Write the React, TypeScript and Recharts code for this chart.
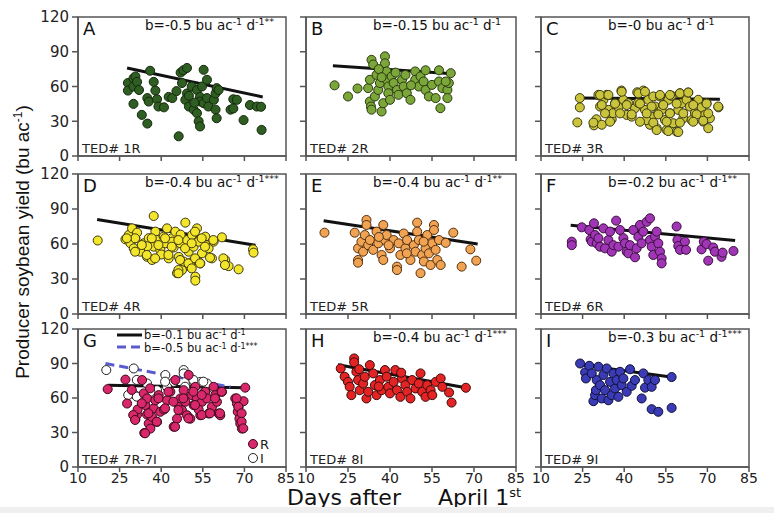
import React from 'react';
import { ScatterChart, Scatter, XAxis, YAxis, ReferenceLine, ReferenceArea } from 'recharts';

type Pt = [number, number];

const xTicks = [10, 25, 40, 55, 70, 85];
const yTicks = [0, 30, 60, 90, 120];

// [days after April 1st, yield bu/ac]
const pointsA: Pt[] = [
  [28, 63], [28, 56.5], [30, 67], [30, 60], [30.7, 68.7], [31.3, 64], [32, 57], [30, 45], [33, 35.5], [35, 28],
  [36, 73.6], [35, 50], [35.5, 47], [37.3, 64], [37.9, 56.5], [38.5, 49], [39, 42.7], [41, 42], [42.7, 51], [44, 50],
  [46.3, 17], [47, 72], [48, 74], [49.3, 76], [47.5, 63], [49.3, 54], [48.7, 48.5], [50, 42.7], [51.7, 40], [52.9, 37],
  [53.5, 30], [54, 25.5], [51, 60], [52.9, 57], [54, 51], [54.7, 60], [55.3, 74.4], [56.5, 65.8], [54, 47], [55.3, 45.6],
  [56.5, 50], [57, 42.7], [59, 48.5], [59.6, 54], [60, 58.6], [59.6, 40], [60, 32.6], [60.7, 57], [66, 49], [67.3, 48.5],
  [65, 40], [66, 41], [69.7, 31], [72, 44], [74.5, 42.7], [76, 42.5], [76.2, 22.5], [52, 46], [50, 52], [45.5, 56],
];
const pointsB: Pt[] = [
  [20.2, 61], [25, 51.4], [28.4, 58.3], [32.2, 58.6], [32.8, 65.8], [33.4, 83], [34, 79], [35.2, 70], [32.8, 47], [33.2, 42.7],
  [33.4, 40], [34.6, 51.4], [35.8, 57], [36.4, 63], [37, 38.4], [37.6, 45.6], [38.2, 86], [38.2, 80], [38.8, 73], [38.8, 65.8],
  [39.4, 60], [39.4, 54.2], [40, 48.5], [40.6, 68.7], [41.3, 63], [42.5, 57], [43, 52.8], [44.3, 65.8], [44.9, 60], [45.5, 70],
  [46, 54.2], [47.3, 48.5], [49, 73], [49, 65.8], [50.3, 60], [50.9, 68.7], [52, 64.3], [52.7, 74], [52.7, 57], [53.9, 51.4],
  [55, 61.4], [56.3, 50], [57.5, 74], [57.5, 64.3], [58, 41.3], [58.7, 58.6], [60.5, 57], [60.5, 50], [61, 63], [61.7, 71.5],
  [59.9, 64.3], [36, 75], [37, 68], [42, 72], [47.5, 61],
];
const pointsC: Pt[] = [
  [23.1, 29], [24, 42], [24, 50], [29.1, 26.5], [30, 31.7], [30.7, 52.8], [31.3, 42.7], [31.9, 27], [32.5, 48.5], [33.7, 52.8],
  [34.3, 39.8], [35.5, 31.7], [36, 37], [36.7, 45.6], [39, 56.5], [39.7, 48.5], [40.9, 35.5], [41.5, 45.6], [42.7, 34], [43.9, 41.3],
  [44.7, 55], [46.9, 56.5], [47.5, 39.8], [48.7, 48.5], [49.3, 27], [49.9, 34], [50.5, 51.4], [51.1, 42.7], [51.7, 24], [52.3, 37],
  [52.9, 51.4], [54, 44], [54.7, 31], [55.3, 22.5], [55.9, 48.5], [56.5, 37], [57.1, 52], [57.7, 28.3], [58.9, 21], [59.5, 39.8],
  [60.1, 54.2], [60.7, 45.6], [61.3, 32.6], [62.5, 48.5], [63.1, 54.8], [63.7, 42.7], [64.3, 31], [65.5, 37], [66.7, 48.5], [67.9, 42],
  [68.5, 29.7], [69.1, 35.5], [69.7, 45.6], [70.3, 24], [70.9, 32.6], [74, 42], [45, 46], [53.5, 40], [38, 42], [48, 31],
  [31.3, 52.7], [34.3, 52.7], [39.1, 55.5], [45.1, 54.1], [47.5, 55.5], [52.9, 52.7], [56.5, 52.7], [60.1, 54.1], [63.1, 54.8], [31.9, 44],
  [36.7, 45.2], [40.9, 44], [45.7, 45.2], [49.9, 42.7], [54.1, 44], [58.9, 45.2], [64.9, 44], [69.7, 45.2], [73.9, 42.7], [33.1, 36.8],
  [38.5, 36.8], [42.7, 35.9], [48.1, 36.8], [52.3, 35.9], [56.5, 36.8], [61.3, 36.8], [66.1, 35.9], [70.3, 36.8], [28.9, 28.8], [34.9, 29.6],
  [45.7, 29.6], [50.5, 28.8], [55.3, 29.6], [60.1, 28.8], [64.9, 29.6], [68.5, 30.5], [51.7, 22.4], [55.9, 21.5], [59.5, 20.7],
];
const pointsD: Pt[] = [
  [17.1, 63], [27.1, 64], [28.3, 67.7], [28.9, 60.6], [29.5, 73.4], [30.1, 56.3], [30.7, 65], [31.3, 69.7], [32.5, 53.4], [33.7, 60.6],
  [34.9, 49], [35.5, 65], [36.7, 46.3], [37.3, 84], [37.3, 57.7], [37.9, 70.6], [38.5, 63.4], [39.7, 55], [40.9, 66.3], [41.5, 60.6],
  [42.1, 73.4], [42.7, 47.7], [43.9, 65], [44.5, 57], [45.1, 70.6], [45.7, 35], [46.3, 49], [46.9, 60.6], [47.5, 37.7], [48.1, 45],
  [48.7, 78.3], [49.3, 63.4], [49.9, 53.4], [50.5, 40.6], [51.1, 67.7], [51.7, 57.7], [52.3, 32], [52.3, 28.6], [52.9, 46.3], [52.9, 73.4],
  [53.5, 62], [54.1, 43.4], [54.7, 52], [55.9, 66.3], [56.5, 59], [57.1, 56.3], [58.3, 47.7], [58.9, 62], [61.9, 65.7], [63.1, 46.3],
  [63.1, 42], [64.3, 41], [67.9, 38.3], [73.1, 55.4], [73.3, 52.6], [44, 62], [40, 51], [35, 58], [50.5, 44], [47, 68],
  [52.2, 70.6], [30.6, 64.9], [27.6, 64.9], [33, 59.1], [36.6, 64.9], [39, 59.1], [41.4, 64.9], [43.8, 57.7], [46.2, 63.4], [48.6, 56.3],
  [51, 60.6], [54.6, 64.9], [55.8, 57.7], [58.8, 63.4], [30.6, 53.4], [34.8, 50.6], [37.8, 47.7], [42.6, 50.6], [46.8, 46.3], [49.8, 43.4],
  [52.2, 47.7], [54, 43.4], [46.2, 37.7], [46.2, 34.9], [51, 39.1], [57.6, 48.3], [62.4, 47.7], [63, 42],
];
const pointsE: Pt[] = [
  [16.6, 69.7], [27.4, 69.7], [28.6, 56.3], [28.6, 46.3], [28.6, 44], [29.8, 62], [30.4, 53.4], [31, 67.7], [31.6, 80.6], [31.6, 76.3],
  [32.2, 59], [32.8, 63.4], [34, 55], [35.2, 70.6], [35.8, 60.6], [37, 50.6], [37.6, 76.3], [37.6, 46.3], [38.2, 63.4], [38.8, 67.7],
  [40, 56.3], [41.3, 63.4], [42.5, 40.6], [42.5, 37.7], [43.1, 60.6], [43.7, 50.6], [44.9, 69], [45.5, 56.3], [46.1, 63.4], [47.3, 46.3],
  [48.5, 59], [49.1, 53.4], [49.7, 78.3], [49.7, 70.6], [50.3, 63.4], [50.9, 35], [51.5, 50.6], [52.1, 45], [52.7, 56.3], [53.3, 67.7],
  [53.9, 52], [54.5, 42], [55.1, 60.6], [55.7, 76.3], [55.7, 72], [56.3, 55], [56.9, 46.3], [57.5, 63.4], [58.1, 42], [59.9, 61],
  [62.6, 69.7], [65.6, 40.6], [68.7, 55.4], [70.8, 45.7], [36, 66], [46, 52], [52, 62], [39.5, 59],
];
const pointsF: Pt[] = [
  [21.1, 62], [21.1, 59], [24.7, 74.3], [27.4, 72], [27.9, 64], [28.3, 62], [29.1, 77.7], [29.5, 67.7], [30.1, 60.6], [30.7, 65],
  [31.3, 57.7], [32.5, 73.4], [33.1, 56.3], [34.3, 63.4], [34.9, 70.6], [35.5, 53.4], [36.1, 59], [37.1, 80], [37.9, 57.7], [38.5, 72],
  [39.7, 65], [40.3, 60.6], [40.9, 53.4], [41.5, 52], [42.1, 59], [43.3, 72], [43.9, 48.6], [44.5, 56.3], [45.1, 66.3], [45.7, 76.3],
  [46.3, 60.6], [46.9, 70.6], [48.1, 79], [49.3, 82], [49.3, 63.4], [49.9, 57.7], [50.5, 50.6], [51.1, 66.3], [51.7, 70.6], [52.3, 60.6],
  [52.9, 53.4], [53.5, 47.7], [53.5, 43.4], [58.9, 75], [59.2, 63.4], [59.5, 58.3], [60.1, 55], [61.9, 62], [62.3, 55], [67.9, 55.4],
  [68.7, 62], [69.7, 60], [70.3, 45.7], [72.1, 57], [72.7, 53.4], [75.1, 49], [75.5, 52.6], [79.4, 54],
];
const pointsG_R: Pt[] = [
  [20.7, 67.7], [27.1, 76], [27.7, 55.2], [30.7, 41.6], [31.3, 45.6], [33.1, 75.6], [33.7, 64], [34.3, 53.8], [34.9, 59.6], [33.9, 29.6],
  [34.9, 45.6], [35.5, 37.8], [36.1, 33.4], [36.7, 43.6], [37.3, 51], [37.9, 58], [38.5, 39.2], [39.1, 62.5], [39.7, 48], [42.1, 58],
  [43.3, 65.4], [44.5, 35], [45.1, 75.6], [45.7, 42], [46.3, 53.8], [46.9, 59.6], [47.5, 49.4], [48.1, 66.8], [48.7, 56.7], [49.3, 45],
  [49.9, 80], [50.5, 42], [51.1, 62.5], [51.7, 53.8], [52.3, 69.7], [52.9, 59.6], [54.1, 45], [54.7, 56.7], [55.9, 65.4], [56.5, 59.6],
  [57.1, 46.5], [58.3, 52.3], [58.9, 69.7], [59.5, 62.5], [60.1, 56.7], [60.7, 46.5], [61.3, 45], [61.9, 65.4], [66.7, 59.6], [67.3, 55.2],
  [67.6, 48], [67.9, 52.3], [68.2, 42], [68.5, 37.8], [69.1, 33.4], [69.7, 57.2], [70.3, 69], [41, 50], [53.5, 50], [31.5, 50],
  [33, 55.4], [29.9, 45.2], [30.6, 40.9], [34.2, 29.3], [35.4, 46.7], [38.4, 39.4], [39, 59.7], [42.6, 65.5], [45, 35], [46.2, 49.6],
  [48, 59.7], [49.8, 42.3], [51.6, 65.5], [52.2, 53.9], [54.6, 45.2], [57.6, 46.7], [59.4, 59.7], [61.2, 46.7], [61.8, 65.5], [67.2, 59.7],
  [67.8, 52.4], [69, 46.7], [69, 39.4], [69.6, 33.6], [29.4, 67], [36, 68.4], [41.4, 51], [44.4, 56.8], [54.6, 62.6],
];
const pointsG_I: Pt[] = [
  [20.2, 84.3], [30.1, 85.7], [30.1, 63.3], [31.9, 61], [34.9, 72.6], [38.5, 66.8], [41.5, 80], [44.5, 74], [48.1, 84.3], [48.1, 81.4],
  [49.3, 66.8], [51.7, 74], [54.1, 74], [55.3, 64], [56.5, 72.6], [58.9, 68.3], [36.1, 65.4], [42.1, 69.7], [41.4, 74.2], [31.2, 75.7],
  [55.2, 74.2], [51.6, 75.7], [28.1, 62.6], [31.2, 61.2], [55.8, 65.5], [48.6, 69.8],
];
const pointsH: Pt[] = [
  [22.4, 85.7], [23.8, 78.5], [25, 74], [25.6, 69.7], [26.2, 62.5], [27.2, 94.4], [27.2, 91], [28, 82.8], [28.6, 75.6], [29.2, 66.8],
  [30.4, 72.6], [31, 78.5], [31.6, 59.6], [32.2, 65.4], [32.8, 88.6], [34, 81.4], [34.6, 71.2], [35.2, 62.5], [36.4, 75.6], [37, 66.8],
  [38.2, 84.3], [38.8, 78.5], [39.4, 69.7], [40, 64], [41.3, 74], [41.9, 84.3], [42.5, 66.8], [43.7, 61], [44.3, 77], [45.5, 71.2],
  [46.1, 65.4], [47.3, 59.6], [47.9, 75.6], [49.1, 68.3], [50.3, 72.6], [50.9, 81.4], [51.5, 65.4], [52.7, 61], [53.3, 71.2], [54.5, 66.8],
  [55.1, 62.5], [56.3, 74], [58.1, 77], [58.7, 69.7], [61.1, 64.8], [62, 56], [67.1, 68.9], [29, 85], [36, 70], [44, 82],
];
const pointsI: Pt[] = [
  [24.1, 90], [25.9, 82.2], [26.2, 77], [27.4, 88], [28.3, 81.4], [28.9, 57.2], [29.5, 62.5], [29.8, 66.8], [30.1, 75.6], [30.7, 87.2],
  [31.3, 71.2], [31.9, 59.6], [32.5, 80], [33.1, 66.8], [33.7, 85.7], [34.3, 58], [34.9, 74], [35.5, 62.5], [36.1, 81.4], [36.7, 68.3],
  [37.3, 75.6], [37.9, 61], [38.5, 82.8], [39.1, 71.2], [39.7, 77], [40.9, 65.4], [42.1, 85], [42.7, 70.6], [43.9, 75.6], [46.3, 59.6],
  [46.9, 81.4], [47.5, 69], [48.7, 75.6], [49.9, 69.7], [49.9, 50.3], [51.1, 75.6], [52.3, 48], [57.1, 78.2], [57.1, 51.4],
];

// regression line end points
const fitA: Pt[] = [[27.7, 76], [76.6, 51]];
const fitB: Pt[] = [[19.6, 78], [62.3, 71]];
const fitC: Pt[] = [[23.8, 50], [74.5, 49]];
const fitD: Pt[] = [[16.9, 81], [74, 59]];
const fitE: Pt[] = [[16.3, 80], [71.3, 60]];
const fitF: Pt[] = [[20.7, 76], [80, 63]];
const fitG_R: Pt[] = [[20.7, 71], [70.3, 69]];
const fitG_I: Pt[] = [[19.9, 90], [65, 69.5]];
const fitH: Pt[] = [[21.4, 89], [67.1, 69]];
const fitI: Pt[] = [[24.1, 89], [57.5, 78]];

const letters = ['A', 'B', 'C', 'D', 'E', 'F', 'G', 'H', 'I'];
const tedLabels = ['TED# 1R', 'TED# 2R', 'TED# 3R', 'TED# 4R', 'TED# 5R', 'TED# 6R', 'TED# 7R-7I', 'TED# 8I', 'TED# 9I'];
const slopes = ['-0.5', '-0.15', '-0', '-0.4', '-0.4', '-0.2', '', '-0.4', '-0.3'];
const stars = ['**', '', '', '***', '**', '**', '', '***', '***'];

const FONT = '"DejaVu Sans", "Liberation Sans", Arial, sans-serif';
const FRAME = '#555';

const COLS = [{ left: 78, width: 208 }, { left: 306, width: 210 }, { left: 541, width: 208 }];
const ROWS = [{ top: 17, height: 139 }, { top: 174, height: 140 }, { top: 329, height: 138 }];

interface Series { pts: Pt[]; fill: string; stroke: string }
interface Fit { pts: Pt[]; color: string; dash?: string }
interface PanelDef { series: Series[]; fits: Fit[] }

const PANELS: PanelDef[] = [
  { series: [{ pts: pointsA, fill: '#2f5e22', stroke: '#15280d' }], fits: [{ pts: fitA, color: '#111' }] },
  { series: [{ pts: pointsB, fill: '#7ba63a', stroke: '#2a3a10' }], fits: [{ pts: fitB, color: '#111' }] },
  { series: [{ pts: pointsC, fill: '#c9c43c', stroke: '#3a3810' }], fits: [{ pts: fitC, color: '#111' }] },
  { series: [{ pts: pointsD, fill: '#f2e52a', stroke: '#3d3710' }], fits: [{ pts: fitD, color: '#111' }] },
  { series: [{ pts: pointsE, fill: '#f0a352', stroke: '#553010' }], fits: [{ pts: fitE, color: '#111' }] },
  { series: [{ pts: pointsF, fill: '#a035b5', stroke: '#3a103f' }], fits: [{ pts: fitF, color: '#111' }] },
  {
    series: [
      { pts: pointsG_I, fill: '#ffffff', stroke: '#222' },
      { pts: pointsG_R, fill: '#d8276b', stroke: '#3a0a1a' },
    ],
    fits: [{ pts: fitG_R, color: '#111' }, { pts: fitG_I, color: '#5b5bd0', dash: '9 5' }],
  },
  { series: [{ pts: pointsH, fill: '#e42424', stroke: '#3a0a0a' }], fits: [{ pts: fitH, color: '#111' }] },
  { series: [{ pts: pointsI, fill: '#3b3bb5', stroke: '#10103a' }], fits: [{ pts: fitI, color: '#111' }] },
];

const toXY = (pts: Pt[]) => pts.map(([x, y]) => ({ x, y }));

const Panel = ({ p, col, row, showY, showX }: { p: PanelDef; col: { left: number; width: number }; row: { top: number; height: number }; showY: boolean; showX: boolean }) => {
  const mL = 50, mT = 12, mR = 14, mB = 26;
  const w = col.width, h = row.height;
  const tickStyle = { fill: '#222', fontSize: 14, fontFamily: FONT };
  return (
    <div style={{ position: 'absolute', left: col.left - mL, top: row.top - mT }}>
      <ScatterChart width={w + mL + mR} height={h + mT + mB} margin={{ top: mT, right: mR, bottom: 0, left: 0 }}>
        <XAxis
          type="number"
          dataKey="x"
          domain={[10, 85]}
          ticks={xTicks}
          height={mB}
          tickSize={5}
          tickMargin={1}
          axisLine={{ stroke: FRAME, strokeWidth: 1.5 }}
          tickLine={{ stroke: FRAME, strokeWidth: 1.5 }}
          tick={tickStyle}
          tickFormatter={(v) => (showX ? String(v) : '')}
          interval={0}
        />
        <YAxis
          type="number"
          dataKey="y"
          domain={[0, 120]}
          ticks={yTicks}
          width={mL}
          tickSize={6}
          tickMargin={3}
          axisLine={{ stroke: FRAME, strokeWidth: 1.5 }}
          tickLine={{ stroke: FRAME, strokeWidth: 1.5 }}
          tick={{ ...tickStyle, fontSize: 15 }}
          tickFormatter={(v) => (showY ? String(v) : '')}
          interval={0}
        />
        <ReferenceArea x1={10} x2={85} y1={0} y2={120} fill="none" stroke={FRAME} strokeWidth={1.5} />
        {p.series.map((s, i) => (
          <Scatter key={i} data={toXY(s.pts)} fill={s.fill} stroke={s.stroke} strokeWidth={1} isAnimationActive={false} />
        ))}
        {p.fits.map((f, i) => (
          <ReferenceLine
            key={'f' + i}
            segment={[{ x: f.pts[0][0], y: f.pts[0][1] }, { x: f.pts[1][0], y: f.pts[1][1] }]}
            stroke={f.color}
            strokeWidth={3}
            strokeDasharray={f.dash}
          />
        ))}
      </ScatterChart>
    </div>
  );
};

const Slope = ({ x, y, b, st, size = 13.5, sup = 9.5, rise = 5 }: { x: number; y: number; b: string; st: string; size?: number; sup?: number; rise?: number }) => (
  <text x={x} y={y} fontSize={size} fill="#111">
    b={b} bu ac<tspan dy={-rise} fontSize={sup}>-1</tspan>
    <tspan dy={rise}> d</tspan>
    <tspan dy={-rise} fontSize={sup}>-1{st}</tspan>
  </text>
);

export default function App() {
  return (
    <div style={{ position: 'absolute', left: 0, top: 0, width: 774, height: 513, background: '#fff', overflow: 'hidden', fontFamily: FONT }}>
      {PANELS.map((p, i) => (
        <Panel key={i} p={p} col={COLS[i % 3]} row={ROWS[Math.floor(i / 3)]} showY={i % 3 === 0} showX={i >= 6} />
      ))}
      <svg width={774} height={513} style={{ position: 'absolute', left: 0, top: 0, pointerEvents: 'none', fontFamily: FONT }}>
        {letters.map((l, i) => {
          const c = COLS[i % 3], r = ROWS[Math.floor(i / 3)];
          return (
            <g key={l}>
              <text x={c.left + 5} y={r.top + 18} fontSize={18} fill="#111">{l}</text>
              <text x={c.left + 4} y={r.top + r.height - 3} fontSize={13} fill="#222">{tedLabels[i]}</text>
              {slopes[i] !== '' && <Slope x={c.left + 67} y={r.top + 13} b={slopes[i]} st={stars[i]} />}
            </g>
          );
        })}
        {/* panel G legend */}
        <line x1={117} x2={142} y1={335} y2={335} stroke="#111" strokeWidth={3} />
        <Slope x={144} y={339} b="-0.1" st="" size={11.5} sup={8} rise={4} />
        <line x1={117} x2={142} y1={347} y2={347} stroke="#5b5bd0" strokeWidth={3} strokeDasharray="9 5" />
        <Slope x={144} y={352} b="-0.5" st="***" size={11.5} sup={8} rise={3} />
        <circle cx={253} cy={444} r={4.5} fill="#d8276b" stroke="#3a0a1a" />
        <text x={260} y={449} fontSize={13} fill="#222">R</text>
        <circle cx={253} cy={458} r={4.5} fill="#fff" stroke="#222" />
        <text x={260} y={463} fontSize={13} fill="#222">I</text>
        {/* axis titles */}
        <text
          transform="translate(29,242) rotate(-90)"
          textAnchor="middle"
          fontSize={19}
          fontFamily='"Liberation Sans", Arial, sans-serif'
          fill="#111"
        >
          Producer soybean yield (bu ac<tspan dy={-7} fontSize={12}>-1</tspan><tspan dy={7}>)</tspan>
        </text>
        <text x={287} y={505} fontSize={22} fill="#111">Days after</text>
        <text x={438} y={505} fontSize={22} fill="#111">
          April 1<tspan dy={-8} fontSize={13}>st</tspan>
        </text>
      </svg>
      <div style={{ position: 'absolute', left: 0, top: 507, width: 774, height: 6, background: '#efefef' }} />
    </div>
  );
}
